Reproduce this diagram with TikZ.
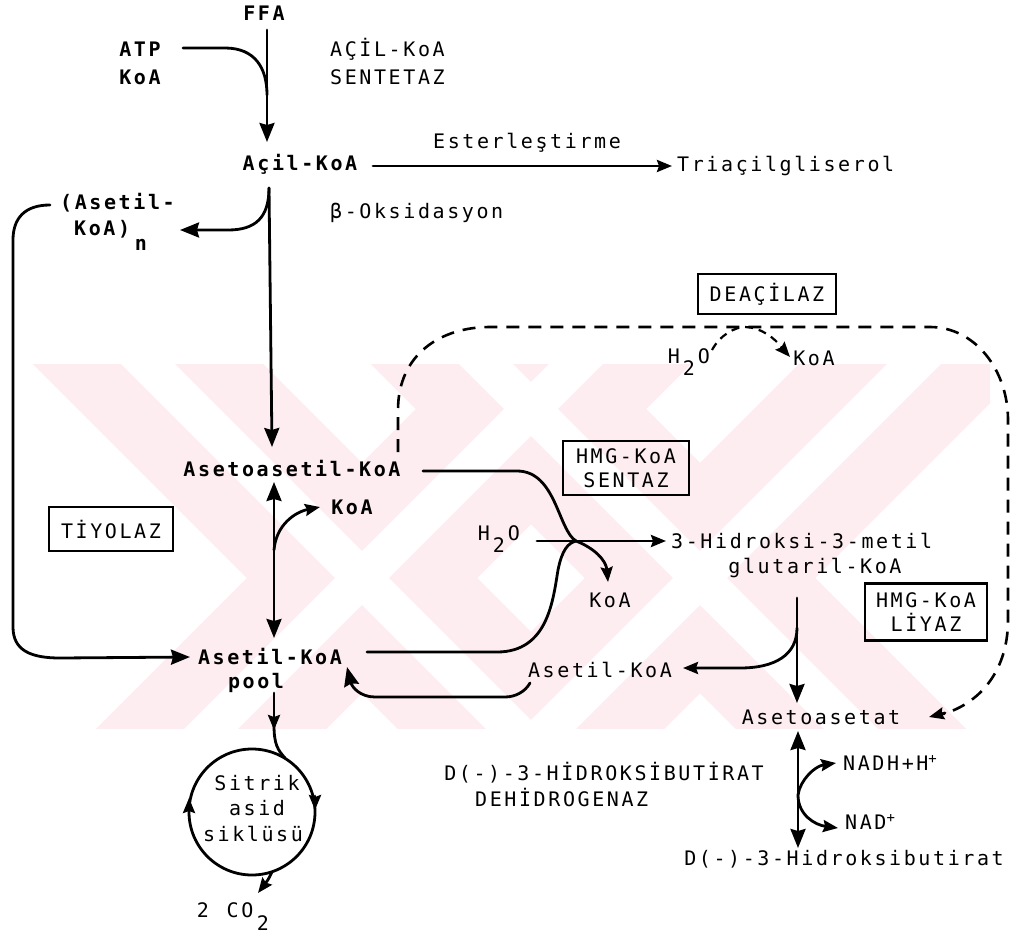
\documentclass[tikz,border=0pt]{standalone}
\usepackage{fontspec}
\newfontfamily\mono[LetterSpace=13]{DejaVu Sans Mono}
\newfontfamily\monob[LetterSpace=13]{DejaVu Sans Mono Bold}
\usetikzlibrary{arrows.meta}
\definecolor{wm}{RGB}{253,237,241}
\begin{document}
\begin{tikzpicture}[x=1pt,y=-1pt,
  lbl/.style={font=\mono\fontsize{20}{24}\selectfont, inner sep=0pt, text=black},
  lblb/.style={font=\monob\fontsize{20}{24}\selectfont, inner sep=0pt, text=black},
  enz/.style={lbl, draw, line width=2.4pt, inner sep=3pt, align=center},
  ln/.style={line width=2.8pt, line cap=round},
  arr/.style={ln, -{Stealth[length=19pt,width=15pt,inset=2pt]}},
  arrs/.style={ln, -{Stealth[length=15pt,width=12pt,inset=2pt]}},
  darr/.style={ln, {Stealth[length=19pt,width=15pt,inset=2pt]}-{Stealth[length=19pt,width=15pt,inset=2pt]}},
  dashln/.style={line width=2.6pt, dash pattern=on 13pt off 9pt},
  wmarm/.style={wm, line width=163pt},
  wmgap/.style={white, line width=38pt}]
\useasboundingbox (0,0) rectangle (1016,936);

% watermark
\begin{scope}
\clip (0,364) rectangle (990,728);
\draw[wmarm] (62,278) -- (662,878);
\draw[wmarm] (662,278) -- (62,878);
\draw[wmarm] (400,278) -- (1000,878);
\draw[wmarm] (1000,278) -- (400,878);
\draw[wmgap] (62,278) -- (662,878);
\draw[wmgap] (662,278) -- (62,878);
\draw[wmgap] (400,278) -- (1000,878);
\draw[wmgap] (1000,278) -- (400,878);
\end{scope}

% texts
\node[lblb] (ffa) at (264,13) {FFA};
\node[lblb] (atp) at (140,49) {ATP};
\node[lblb] (koa1) at (140,77) {KoA};
\node[lbl,anchor=west] (acs1) at (330,49) {AÇİL-KoA};
\node[lbl,anchor=west] (acs2) at (330,77) {SENTETAZ};
\node[lblb] (acil) at (300,164) {Açil-KoA};
\node[lbl] (est) at (527,143) {Esterleştirme};
\node[lbl,anchor=west] (tag) at (677,166) {Triaçilgliserol};
\node[lbl,anchor=west] (boks) at (330,213) {β-Oksidasyon};
\node[lblb,anchor=west] (asn1) at (60,203) {(Asetil-};
\node[lblb,anchor=west] (asn2) at (74,229) {KoA)};
\node[lblb] (asn3) at (141,245) {n};
\node[lblb] (aak) at (292,469) {Asetoasetil-KoA};
\node[lblb] (koa2) at (352,507) {KoA};
\node[enz, minimum width=124pt, minimum height=44pt] (tiy) at (111,529) {TİYOLAZ};
\node[lblb] (pool) at (270,657) {Asetil-KoA};
\node[lblb] (poolb) at (256,683) {pool};
\node[lbl] (sit1) at (257,783) {Sitrik};
\node[lbl] (sit2) at (257,808) {asid};
\node[lbl] (sit3) at (253,834) {siklüsü};
\node[lbl] (co2a) at (203,910) {2};
\node[lbl] (co2b) at (240,910) {CO};
\node[lbl] (co2c) at (263,923) {2};
\node[enz, minimum width=138pt, minimum height=40pt] (deac) at (767,294) {DEAÇİLAZ};
\node[lbl] (h2oa) at (674,356) {H};
\node[lbl] (h2ob) at (689,368) {2};
\node[lbl] (h2oc) at (704,356) {O};
\node[lbl] (koa3) at (814,358) {KoA};
\node[enz, minimum width=126pt, minimum height=54pt] (hmgs) at (626,468) {HMG-KoA\\SENTAZ};
\node[lbl] (h2od) at (484,533) {H};
\node[lbl] (h2oe) at (499,545) {2};
\node[lbl] (h2of) at (514,533) {O};
\node[lbl,anchor=west] (hmg1) at (671,541) {3-Hidroksi-3-metil};
\node[lbl] (hmg2) at (815,568) {glutaril-KoA};
\node[lbl] (koa4) at (610,600) {KoA};
\node[enz, minimum width=122pt, minimum height=57pt] (hmgl) at (926,612) {HMG-KoA\\LİYAZ};
\node[lbl] (ak2) at (600,670) {Asetil-KoA};
\node[lbl] (aset) at (821,717) {Asetoasetat};
\node[lbl] (hbd1) at (604,773) {D(-)-3-HİDROKSİBUTİRAT};
\node[lbl,anchor=west] (hbd2) at (475,797) {DEHİDROGENAZ};
\node[lbl,anchor=west] (nadh) at (843,763) {NADH+H\raisebox{0.6ex}{\fontsize{14}{14}\selectfont +}};
\node[lbl,anchor=west] (nad) at (845,822) {NAD\raisebox{0.6ex}{\fontsize{14}{14}\selectfont +}};
\node[lbl] (hb) at (844,859) {D(-)-3-Hidroksibutirat};

% coordinates
\coordinate (ffaTop) at (267,30);
\coordinate (acilIn) at (267,142);
\coordinate (atpJoin) at (267,95);
\coordinate (acilOut) at (269,188);
\coordinate (aakIn) at (272,447);
\coordinate (asnOut) at (50,205);
\coordinate (poolIn) at (190,657);
\coordinate (kb) at (274,550);
\coordinate (cross) at (576,541);
\coordinate (glTop) at (797,598);
\coordinate (glB) at (797,628);
\coordinate (nb) at (798,795);

% top
\draw[arr] (ffaTop) -- (acilIn);
\draw[ln] (183,48) -- (225,48) .. controls (255,48) and (267,68) .. (atpJoin);
\draw[arrs] (373,166) -- (672,166);
\draw[arr] (acilOut) -- (aakIn);
\draw[arr] (acilOut) .. controls (269,218) and (255,230) .. (228,230) -- (180,230);
% left loop
\draw[arr] (asnOut) .. controls (25,205) and (13,218) .. (13,240) -- (13,627) .. controls (13,650) and (30,658) .. (60,658) -- (poolIn);
% thiolase
\draw[darr] (274,482) -- (274,638);
\draw[arrs] (kb) .. controls (276,525) and (295,512) .. (320,507);
% HMG synthase
\draw[ln] (423,471) -- (517,471) .. controls (556,471) and (558,530) .. (cross);
\draw[arrs] (cross) .. controls (594,548) and (606,560) .. (608,582);
\draw[ln] (367,652) -- (497,652) .. controls (548,652) and (553,600) .. (558,570) .. controls (562,550) and (568,543) .. (cross);
\draw[arrs] (537,541) -- (666,541);
% return
\draw[arr] (530,683) .. controls (525,692) and (515,697) .. (505,697) -- (375,697) .. controls (360,697) and (352,687) .. (347,667);
% lyase
\draw[arr] (glTop) -- (797,703);
\draw[arrs] (glB) .. controls (797,655) and (775,668) .. (740,668) -- (683,668);
% dashed loop
\draw[dashln] (398,452) -- (398,410) .. controls (398,355) and (440,327) .. (490,327) -- (930,327) .. controls (975,327) and (1008,370) .. (1008,420) -- (1008,620) .. controls (1008,675) and (975,708) .. (935,716);
\draw[ln,-{Stealth[length=15pt,width=12pt,inset=2pt]}] (945,713) -- (929,717);
\draw[dashln,line width=2.2pt,dash pattern=on 8pt off 6pt] (712,350) .. controls (720,335) and (735,327) .. (745,327) .. controls (760,327) and (775,338) .. (782,348);
\draw[arrs] (782,348) -- (790,357);
% reductase
\draw[darr] (798,731) -- (798,848);
\draw[arrs] (nb) .. controls (800,780) and (815,766) .. (836,763);
\draw[arrs] (nb) .. controls (798,815) and (815,825) .. (838,828);
% citric cycle
\draw[ln] (252,812) circle (63);
\draw[arrs] (274,693) -- (274,730);
\draw[ln] (274,725) .. controls (274,745) and (278,750) .. (285,758);
\draw[arrs] (315,796) -- (315,810);
\draw[arrs] (189,812) -- (189,798);
\draw[arrs] (272,872) .. controls (268,880) .. (258,893);
\end{tikzpicture}
\end{document}
